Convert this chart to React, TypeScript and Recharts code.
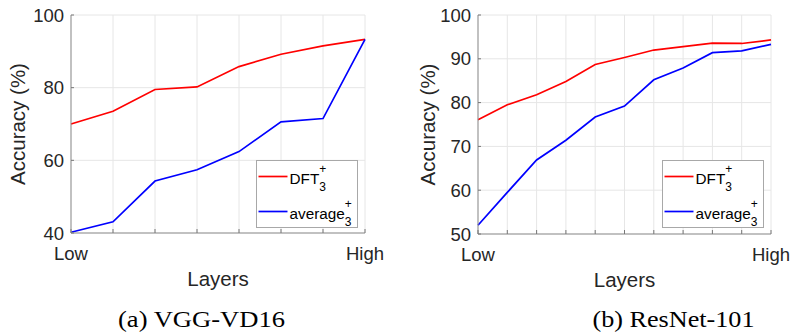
import React from 'react';
import { LineChart, Line, XAxis, YAxis, CartesianGrid, Legend, Label, Customized } from 'recharts';

// ---------- data ----------
const vggLayers = [1, 2, 3, 4, 5, 6, 7, 8];
const vggTickLabels = ['Low', '', '', '', '', '', '', 'High'];
const vggDFT = [70.0, 73.5, 79.5, 80.2, 85.8, 89.2, 91.5, 93.3];
const vggAverage = [40.2, 43.1, 54.3, 57.4, 62.4, 70.6, 71.5, 93.3];
const vggYTicks = [40, 60, 80, 100];

const resLayers = [1, 2, 3, 4, 5, 6, 7, 8, 9, 10, 11];
const resTickLabels = ['Low', '', '', '', '', '', '', '', '', '', 'High'];
const resDFT = [76.1, 79.5, 81.8, 84.8, 88.7, 90.3, 92.0, 92.8, 93.6, 93.5, 94.3];
const resAverage = [52.0, 59.5, 66.9, 71.4, 76.7, 79.2, 85.2, 87.9, 91.4, 91.8, 93.3];
const resYTicks = [50, 60, 70, 80, 90, 100];

const seriesNames = ['DFT', 'average'];
const seriesSub = '3';
const seriesSup = '+';
const seriesColors = ['#ff0000', '#0000ff'];
const captions = ['(a) VGG-VD16', '(b) ResNet-101'];
const xLabel = 'Layers';
const yLabel = 'Accuracy (%)';

// ---------- styling ----------
const SANS = "'Liberation Sans', Arial, Helvetica, sans-serif";
const SERIF = "'Liberation Serif', 'Times New Roman', serif";
const TEXT = '#262626';
const AXIS = '#8f8f8f';
const GRID = '#e6e6e6';
const TICK_MARGIN_X = 27;
const TICK_MARGIN_Y = 7;
const LINE_W = 1.7;

const makeXTick = (labels: string[]) => (props: any) => {
  const { x, y, index } = props;
  const axisY = y - TICK_MARGIN_X;
  const label = labels[index];
  return (
    <g>
      <line x1={x} x2={x} y1={axisY} y2={axisY - 4} stroke="#777" strokeWidth={1} />
      {label ? (
        <text x={x} y={y} textAnchor="middle" fontSize={18.5} fill={TEXT} fontFamily={SANS}>
          {label}
        </text>
      ) : null}
    </g>
  );
};

const YTick = (props: any) => {
  const { x, y, payload } = props;
  const axisX = x + TICK_MARGIN_Y;
  return (
    <g>
      <line x1={axisX} x2={axisX + 3} y1={y} y2={y} stroke="#777" strokeWidth={1} />
      <text x={x} y={y + 6.6} textAnchor="end" fontSize={18.5} fill={TEXT} fontFamily={SANS}>
        {payload.value}
      </text>
    </g>
  );
};

const LegendBox = (props: any) => {
  const payload = props.payload || [];
  return (
    <svg width={102} height={68} style={{ display: 'block', overflow: 'visible' }}>
      <rect x={0.5} y={0.5} width={101} height={67} fill="#ffffff" stroke="#a8a8a8" strokeWidth={1} />
      {payload.map((p: any, i: number) => {
        const ly = 16.5 + i * 35;
        return (
          <g key={i} fontFamily={SANS}>
            <line x1={2.5} x2={31.5} y1={ly} y2={ly} stroke={p.color} strokeWidth={LINE_W} />
            <text x={33.5} y={ly + 7} fontSize={15.3} fill="#000">
              {p.value}
              <tspan dy={-11} fontSize={12}>{seriesSup}</tspan>
            </text>
            <text x={33.5} y={ly + 7} fontSize={15.3} fill="#000">
              <tspan fill="none">{p.value}</tspan>
              <tspan dy={7} fontSize={12}>{seriesSub}</tspan>
            </text>
          </g>
        );
      })}
    </svg>
  );
};

type PanelProps = {
  layers: number[];
  tickLabels: string[];
  dft: number[];
  average: number[];
  yTicks: number[];
  caption: string;
  yAxisWidth: number;
  rightMargin: number;
  xAxisHeight: number;
  yLabelX: number;
  legendLeft: number;
  captionX: number;
  captionWidth: number;
};

const Panel = (p: PanelProps) => {
  const data = p.layers.map((l, i) => ({ layer: l, dft: p.dft[i], average: p.average[i] }));
  return (
    <LineChart
      width={396}
      height={332}
      data={data}
      margin={{ top: 15, right: p.rightMargin, bottom: 0, left: 0 }}
    >
      <CartesianGrid stroke={GRID} strokeWidth={1} />
      <XAxis
        type="number"
        dataKey="layer"
        domain={[p.layers[0], p.layers[p.layers.length - 1]]}
        ticks={p.layers}
        interval={0}
        height={p.xAxisHeight}
        tickSize={0}
        tickMargin={TICK_MARGIN_X}
        tickLine={false}
        axisLine={{ stroke: AXIS, strokeWidth: 1 }}
        tick={makeXTick(p.tickLabels)}
      >
        <Label
          content={(lp: any) => {
            const vb = lp.viewBox;
            return (
              <text x={vb.x + vb.width / 2} y={vb.y + 53} textAnchor="middle" fontSize={20.5} fill={TEXT} fontFamily={SANS}>
                {xLabel}
              </text>
            );
          }}
        />
      </XAxis>
      <YAxis
        type="number"
        domain={[p.yTicks[0], p.yTicks[p.yTicks.length - 1]]}
        ticks={p.yTicks}
        interval={0}
        width={p.yAxisWidth}
        tickSize={0}
        tickMargin={TICK_MARGIN_Y}
        tickLine={false}
        axisLine={{ stroke: AXIS, strokeWidth: 1 }}
        tick={YTick}
      >
        <Label
          content={(lp: any) => {
            const vb = lp.viewBox;
            const cy = vb.y + vb.height / 2;
            return (
              <text
                x={p.yLabelX}
                y={cy}
                transform={`rotate(-90 ${p.yLabelX} ${cy})`}
                textAnchor="middle"
                dominantBaseline="central"
                fontSize={20.5}
                fill={TEXT}
                fontFamily={SANS}
              >
                {yLabel}
              </text>
            );
          }}
        />
      </YAxis>
      <Line
        type="linear"
        dataKey="dft"
        name={seriesNames[0]}
        stroke={seriesColors[0]}
        strokeWidth={LINE_W}
        dot={false}
        activeDot={false}
        isAnimationActive={false}
      />
      <Line
        type="linear"
        dataKey="average"
        name={seriesNames[1]}
        stroke={seriesColors[1]}
        strokeWidth={LINE_W}
        dot={false}
        activeDot={false}
        isAnimationActive={false}
      />
      <Legend
        layout="horizontal"
        verticalAlign="middle"
        align="center"
        width={102}
        height={68}
        content={LegendBox}
        wrapperStyle={{ left: p.legendLeft, top: 159.5, width: 102, height: 68, margin: 0, padding: 0 }}
      />
      <Customized
        component={() => (
          <text
            x={p.captionX}
            y={327}
            textAnchor="middle"
            fontSize={24}
            fill="#000"
            fontFamily={SERIF}
            textLength={p.captionWidth}
            lengthAdjust="spacingAndGlyphs"
          >
            {p.caption}
          </text>
        )}
      />
    </LineChart>
  );
};

export default function App() {
  return (
    <div
      style={{
        position: 'absolute',
        left: 0,
        top: 0,
        width: 792,
        height: 332,
        background: '#ffffff',
        display: 'flex',
        overflow: 'hidden',
      }}
    >
      <Panel
        layers={vggLayers}
        tickLabels={vggTickLabels}
        dft={vggDFT}
        average={vggAverage}
        yTicks={vggYTicks}
        caption={captions[0]}
        yAxisWidth={71}
        rightMargin={31}
        xAxisHeight={99}
        yLabelX={17}
        legendLeft={255.5}
        captionX={201.5}
        captionWidth={167}
      />
      <Panel
        layers={resLayers}
        tickLabels={resTickLabels}
        dft={resDFT}
        average={resAverage}
        yTicks={resYTicks}
        caption={captions[1]}
        yAxisWidth={82}
        rightMargin={21}
        xAxisHeight={98}
        yLabelX={31}
        legendLeft={265.7}
        captionX={277.5}
        captionWidth={162}
      />
    </div>
  );
}
